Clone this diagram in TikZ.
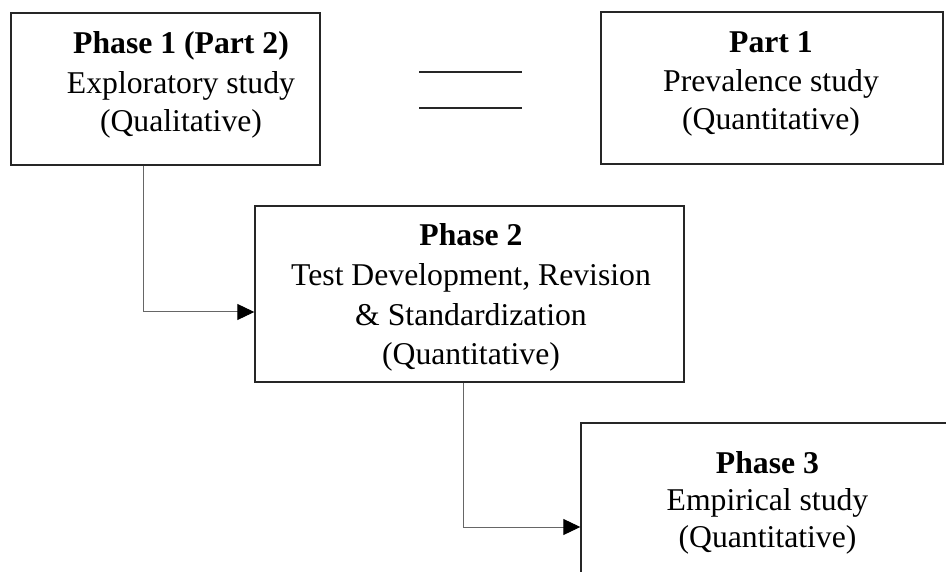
\documentclass[tikz,border=0pt]{standalone}
\usepackage{fontspec}
\setmainfont{Liberation Serif}
\usetikzlibrary{arrows.meta}
\tikzset{
  box/.style={draw=black!85, line width=1.4pt, rectangle, inner sep=0pt},
  txt/.style={anchor=base, inner sep=0pt, font=\fontsize{31.7}{38}\selectfont},
  head/.style={txt, font=\fontsize{31.7}{38}\selectfont\bfseries},
  conn/.style={draw=black!60, line width=1pt, -{Triangle[length=17pt,width=16pt,color=black]}},
  rule/.style={draw=black!85, line width=2pt}
}
\begin{document}
\begin{tikzpicture}[x=1pt,y=-1pt]
  \useasboundingbox (0,0) rectangle (946,572);
  \clip (0,0) rectangle (946,572);
  \fill[white] (0,0) rectangle (946,572);

  % boxes
  \node[box, minimum width=309pt, minimum height=152pt] (b1) at (165.5,89) {};
  \node[box, minimum width=342pt, minimum height=152pt] (b0) at (772,88) {};
  \node[box, minimum width=429pt, minimum height=176pt] (b2) at (469.5,294) {};
  \node[box, minimum width=389pt, minimum height=187pt] (b3) at (775.5,516.5) {};

  % Phase 1 text
  \node[head] (t1a) at (181,54) {Phase 1 (Part 2)};
  \node[txt]  (t1b) at (181,94) {Exploratory study};
  \node[txt]  (t1c) at (181,132) {(Qualitative)};

  % Part 1 text
  \node[head] (t0a) at (771,53) {Part 1};
  \node[txt]  (t0b) at (771,92) {Prevalence study};
  \node[txt]  (t0c) at (771,130) {(Quantitative)};

  % Phase 2 text
  \node[head] (t2a) at (471,246) {Phase 2};
  \node[txt]  (t2b) at (471,286) {Test Development, Revision};
  \node[txt]  (t2c) at (471,326) {\& Standardization};
  \node[txt]  (t2d) at (471,364) {(Quantitative)};

  % Phase 3 text
  \node[head] (t3a) at (767.5,473) {Phase 3};
  \node[txt]  (t3b) at (767.5,510) {Empirical study};
  \node[txt]  (t3c) at (767.5,547) {(Quantitative)};

  % double rule between the two top boxes
  \coordinate (r1a) at (419,72);  \coordinate (r1b) at (522,72);
  \coordinate (r2a) at (419,108); \coordinate (r2b) at (522,108);
  \draw[rule] (r1a) -- (r1b);
  \draw[rule] (r2a) -- (r2b);

  % connectors
  \draw[conn] ([xshift=-22.5pt]b1.south) |- ([yshift=-18pt]b2.west);
  \draw[conn] ([xshift=-6.5pt]b2.south) |- ([yshift=-10.5pt]b3.west);
\end{tikzpicture}
\end{document}
